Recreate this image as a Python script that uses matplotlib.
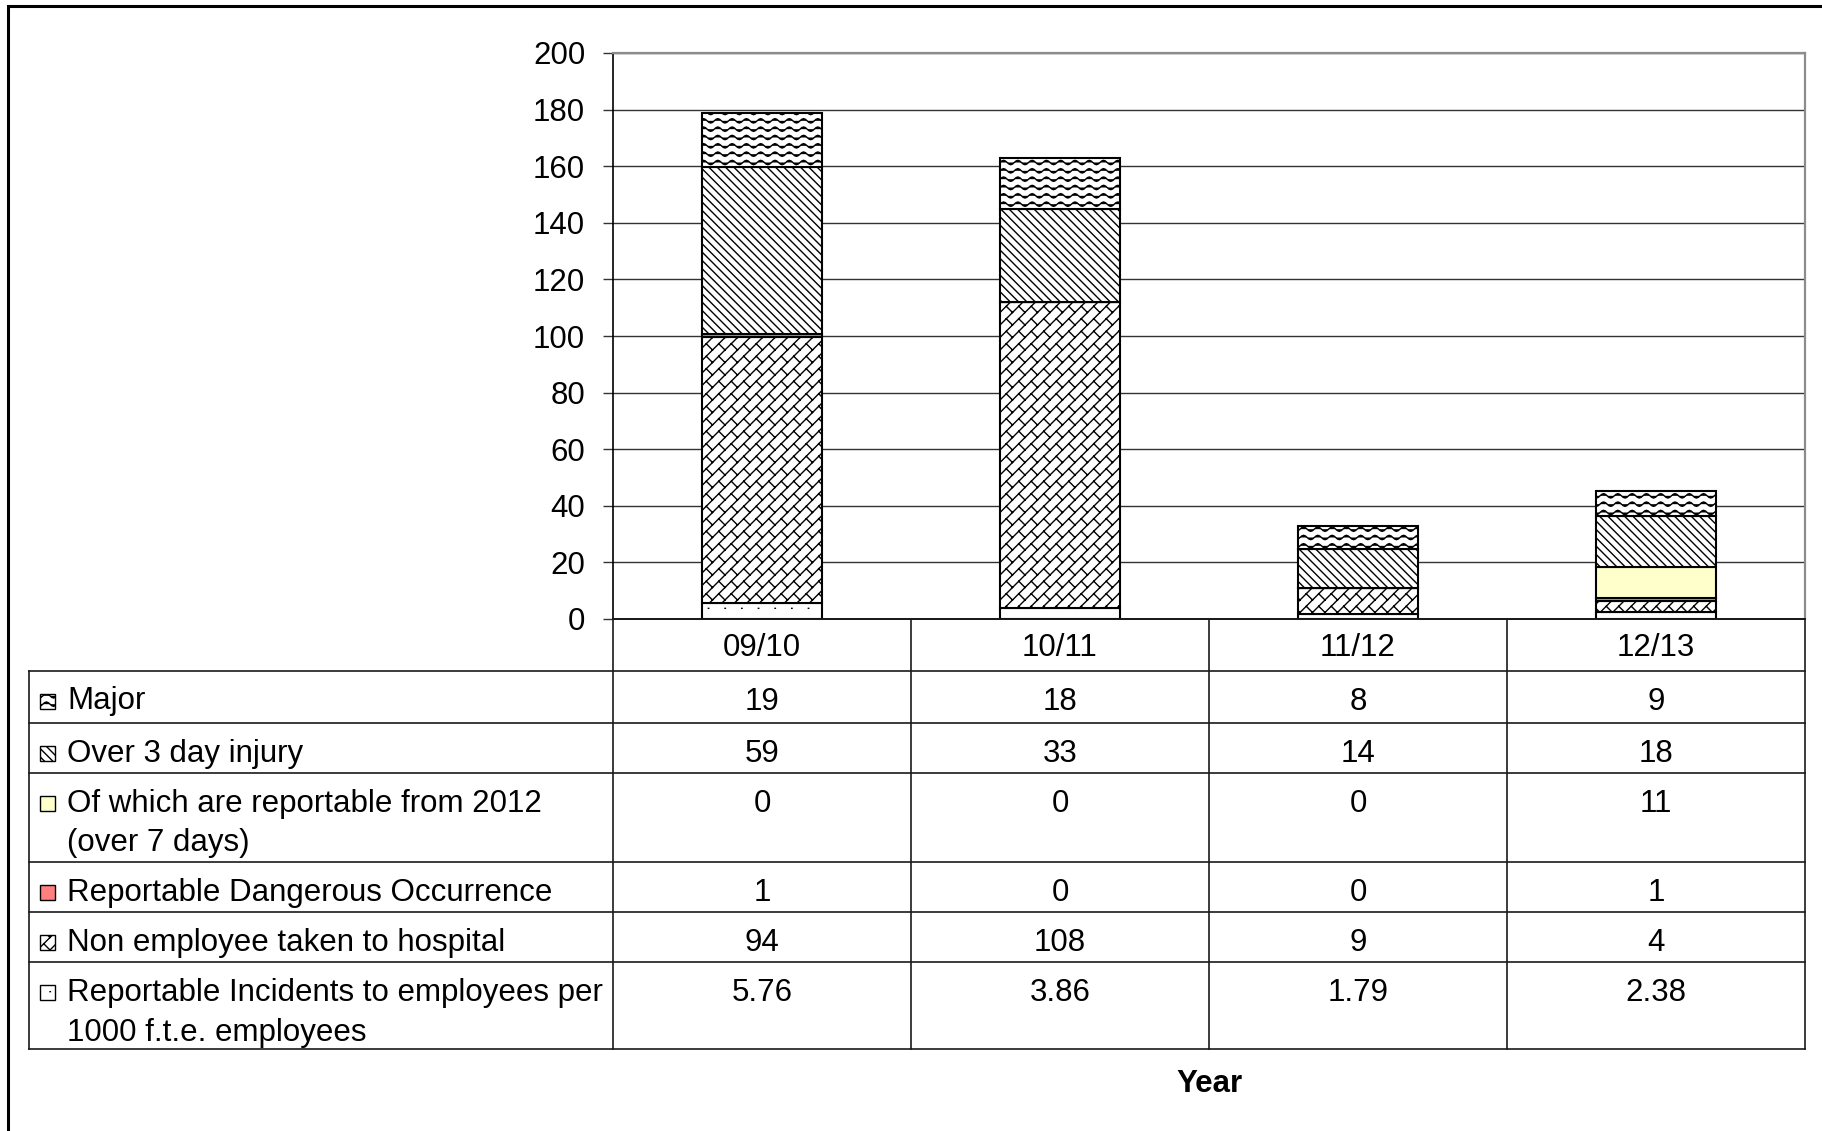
import warnings
import numpy as np
import matplotlib
matplotlib.use("Agg")
import matplotlib.pyplot as plt
import matplotlib.hatch as mhatch
from matplotlib.path import Path
from matplotlib.patches import Rectangle

warnings.filterwarnings("ignore", message=".*hatch must consist.*")

# ---------------------------------------------------------------- data
years = ["09/10", "10/11", "11/12", "12/13"]
major = [19, 18, 8, 9]
over_3_day = [59, 33, 14, 18]
over_7_day = [0, 0, 0, 11]
dangerous = [1, 0, 0, 1]
non_employee = [94, 108, 9, 4]
rate_per_1000 = [5.76, 3.86, 1.79, 2.38]

row_labels = [
    "Major",
    "Over 3 day injury",
    "Of which are reportable from 2012\n(over 7 days)",
    "Reportable Dangerous Occurrence",
    "Non employee taken to hospital",
    "Reportable Incidents to employees per\n1000 f.t.e. employees",
]
y_ticks = list(range(0, 201, 20))


# ------------------------------------------------------ custom hatches
class WaveHatch(mhatch.HatchPatternBase):
    """Rows of small waves, selected with '~'."""
    periods = 7
    samples = 8

    def __init__(self, hatch, density):
        self.num_rows = hatch.count("~") * density * 2
        self.n_pts = self.periods * self.samples + 1
        self.num_vertices = self.num_rows * self.n_pts

    def set_vertices_and_codes(self, vertices, codes):
        x = np.linspace(0.0, 1.0, self.n_pts)
        amp = 0.022
        for r in range(self.num_rows):
            y0 = (r + 0.5) / self.num_rows
            sl = slice(r * self.n_pts, (r + 1) * self.n_pts)
            vertices[sl, 0] = x
            vertices[sl, 1] = y0 + amp * np.sin(2 * np.pi * self.periods * x)
            codes[sl] = Path.LINETO
            codes[r * self.n_pts] = Path.MOVETO


class BrickHatch(mhatch.HatchPatternBase):
    """Diagonal brick bond, selected with 'b'.

    ``lines`` and ``bricks`` must share parity so the cell tiles cleanly.
    """
    lines = 8
    bricks = 8

    def __init__(self, hatch, density):
        k = hatch.count("b")
        self.n = self.lines * k
        if self.n == 0:
            self.num_vertices = 0
            return
        self.ks_lines = np.arange(-self.n, self.n + 1)
        self.ks_seg = np.arange(-self.n - 1, self.n + 1)
        self.js = np.arange(-self.bricks - 2, 2 * self.bricks + 3)
        self.num_vertices = (len(self.ks_lines) * 2
                             + len(self.ks_seg) * len(self.js) * 2)

    def set_vertices_and_codes(self, vertices, codes):
        n, m = self.n, self.bricks
        L = 1.0 / m
        i = 0
        for k in self.ks_lines:
            vertices[i] = (0.0, k / n)
            vertices[i + 1] = (1.0, 1.0 + k / n)
            codes[i] = Path.MOVETO
            codes[i + 1] = Path.LINETO
            i += 2
        for k in self.ks_seg:
            off = (k % 2) * L / 2 - k / (2 * n)
            for j in self.js:
                a = j * L + off
                vertices[i] = (a, a + k / n)
                vertices[i + 1] = (a - 0.5 / n, a + k / n + 0.5 / n)
                codes[i] = Path.MOVETO
                codes[i + 1] = Path.LINETO
                i += 2


class SparseDotHatch(mhatch.HatchPatternBase):
    """Sparse staggered pin-point dots, selected with ':'."""

    def __init__(self, hatch, density):
        self.rows = hatch.count(":") * density
        self.num_vertices = self.rows * (self.rows + 1) * 2

    def set_vertices_and_codes(self, vertices, codes):
        r = self.rows
        i = 0
        for row in range(r):
            y = (row + 0.5) / r
            shift = 0.5 / r if row % 2 else 0.0
            for col in range(r + 1):
                xx = col / r + shift
                vertices[i] = (xx, y)
                vertices[i + 1] = (xx + 0.004, y)
                codes[i] = Path.MOVETO
                codes[i + 1] = Path.LINETO
                i += 2


mhatch._hatch_types.extend([WaveHatch, BrickHatch, SparseDotHatch])

# ------------------------------------------------------------- styling
plt.rcParams["font.family"] = ["Liberation Sans", "DejaVu Sans"]
plt.rcParams["hatch.linewidth"] = 1.0
FS = 22.5

# stacking order, bottom to top: (values, face colour, hatch)
series_styles = [
    (rate_per_1000, "white", ":"),
    (non_employee, "white", "b"),
    (dangerous, "#FF7F7F", None),
    (over_7_day, "#FFFFCC", None),
    (over_3_day, "white", "\\\\\\\\"),
    (major, "white", "~"),
]
# table rows follow the legend order (top series first)
row_styles = [series_styles[i] for i in (5, 4, 3, 2, 1, 0)]
row_values = [major, over_3_day, over_7_day, dangerous, non_employee,
              rate_per_1000]

# layout in pixels
W, H = 1822, 1131
PL, PR, PT, PB = 613, 1805, 53, 619
TL = 29
row_edges = [619, 670.5, 722.7, 773, 862, 912, 962, 1049]

fig = plt.figure(figsize=(W / 100, H / 100), dpi=100)
fig.patch.set_facecolor("white")

ax = fig.add_axes([PL / W, 1 - PB / H, (PR - PL) / W, (PB - PT) / H])
x = np.arange(len(years))
bottom = np.zeros(len(years))
for vals, face, hatch in series_styles:
    ax.bar(x, vals, width=0.4, bottom=bottom, color=face, edgecolor="black",
           linewidth=1.5, hatch=hatch, zorder=3)
    bottom += np.array(vals, dtype=float)

ax.set_xlim(-0.5, len(years) - 0.5)
ax.set_ylim(0, 200)
ax.set_yticks(y_ticks)
ax.set_yticklabels([str(t) for t in y_ticks], fontsize=FS)
ax.set_xticks([])
ax.tick_params(axis="y", direction="out", length=7, width=1.0,
               color="#333333", pad=13)
ax.yaxis.grid(True, color="#333333", linewidth=1.0, zorder=0)
ax.set_axisbelow(True)
ax.spines["left"].set_color("black")
ax.spines["left"].set_linewidth(1.2)
for side in ("top", "right"):
    ax.spines[side].set_color("#8c8c8c")
    ax.spines[side].set_linewidth(1.6)
ax.spines["bottom"].set_color("black")
ax.spines["bottom"].set_linewidth(1.2)

# ------------------------------------------------------ data table
ov = fig.add_axes([0, 0, 1, 1])
ov.set_xlim(0, W)
ov.set_ylim(H, 0)
ov.axis("off")
ov.patch.set_alpha(0)

col_w = (PR - PL) / len(years)
col_edges = [PL + i * col_w for i in range(len(years) + 1)]
col_centers = [PL + (i + 0.5) * col_w for i in range(len(years))]
LC, LW = "#1a1a1a", 1.2

# horizontal rules
ov.plot([PL, PR], [row_edges[0]] * 2, color=LC, lw=LW)
for yy in row_edges[1:]:
    ov.plot([TL, PR], [yy, yy], color=LC, lw=LW)
# vertical rules
ov.plot([TL, TL], [row_edges[1], row_edges[-1]], color=LC, lw=LW)
for xx in col_edges:
    ov.plot([xx, xx], [row_edges[0], row_edges[-1]], color=LC, lw=LW)

# header row with categories
hy = (row_edges[0] + row_edges[1]) / 2 + 3
for cx, yr in zip(col_centers, years):
    ov.text(cx, hy, yr, ha="center", va="center", fontsize=FS)

LINE_GAP = 39.5
for r, (label, vals, style) in enumerate(zip(row_labels, row_values,
                                             row_styles)):
    top = row_edges[r + 1]
    ty = top + 31
    _, face, hatch = style
    ov.add_patch(Rectangle((40, ty - 8), 15, 15, facecolor=face,
                           edgecolor="black", linewidth=1.0, hatch=hatch))
    for li, line in enumerate(label.split("\n")):
        ov.text(67, ty + li * LINE_GAP, line, ha="left", va="center",
                fontsize=FS)
    for cx, v in zip(col_centers, vals):
        ov.text(cx, ty, f"{v:g}", ha="center", va="center", fontsize=FS)

# axis title
ov.text((PL + PR) / 2, 1084, "Year", ha="center", va="center",
        fontsize=FS, fontweight="bold")

# outer frame (left and top edges)
ov.plot([8, 8, W], [H, 6, 6], color="black", lw=2.2, solid_joinstyle="miter")

fig.savefig("out.png", dpi=100)
